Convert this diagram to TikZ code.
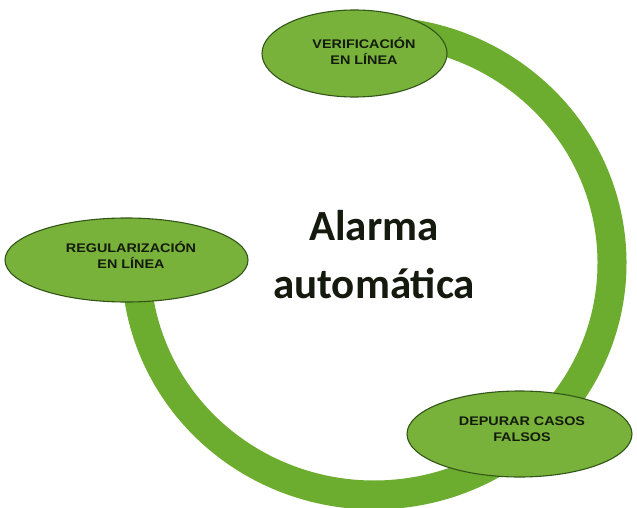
\documentclass[tikz,border=0pt]{standalone}
\usepackage{fontspec}
\setmainfont{Carlito}
\newfontfamily\labelfont{Liberation Sans}[FakeStretch=1.15]
\usetikzlibrary{shapes.geometric}
\definecolor{ringgreen}{RGB}{108,172,46}
\definecolor{ovalgreen}{RGB}{120,178,58}
\definecolor{ovaledge}{RGB}{50,85,24}
\definecolor{inkdark}{RGB}{20,26,14}
\begin{document}
\begin{tikzpicture}[x=1pt,y=-1pt,
  oval/.style={ellipse, draw=ovaledge, line width=1.1pt, fill=ovalgreen, inner sep=0pt},
  ovaltext/.style={font=\labelfont\bfseries\fontsize{12.5}{16}\selectfont, align=center, text=inkdark, inner sep=0pt},
  title/.style={font=\bfseries\fontsize{43}{57.6}\selectfont, align=center, text=inkdark, inner sep=0pt}]
\useasboundingbox (0,0) rectangle (637,508);
\fill[white] (0,0) rectangle (637,508);
% the cycle ring, drawn under the stage ovals
\draw[ringgreen, line width=29pt] (374,263) ++(-95:238 and 232)
  arc[start angle=-95, end angle=180, x radius=238, y radius=232];
% stage ovals
\node[oval, minimum width=185pt, minimum height=87pt] (ver) at (354.5,53.5) {};
\node[oval, minimum width=243pt, minimum height=84pt] (reg) at (126.5,260) {};
\node[oval, minimum width=225pt, minimum height=86pt] (dep) at (519.5,434) {};
% stage labels
\node[ovaltext] (verT) at (364,50.5) {VERIFICACIÓN\\EN LÍNEA};
\node[ovaltext] (regT) at (131,255) {REGULARIZACIÓN\\EN LÍNEA};
\node[ovaltext] (depT) at (522,429.5) {DEPURAR CASOS\\FALSOS};
% central title (base anchor sits on the last line)
\node[title, anchor=base] (alarm) at (374,298.3) {Alarma\\automática};
\end{tikzpicture}
\end{document}
